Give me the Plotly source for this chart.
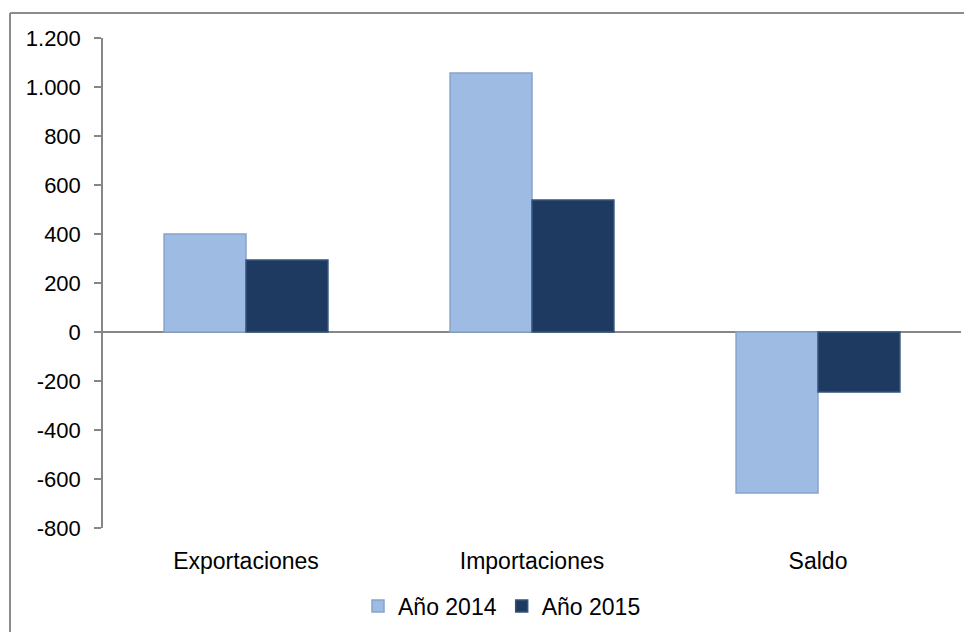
import plotly.graph_objects as go

categories = ["Exportaciones", "Importaciones", "Saldo"]
series_names = ["Año 2014", "Año 2015"]
values_2014 = [400, 1057, -657]
values_2015 = [294, 539, -245]
tick_vals = [-800, -600, -400, -200, 0, 200, 400, 600, 800, 1000, 1200]
tick_text = ["-800", "-600", "-400", "-200", "0", "200", "400", "600", "800", "1.000", "1.200"]

# page body has an 8px margin; compensate so the picture lands on the window
OFF = 8
W, H = 972 - OFF, 632 - OFF
L, R, T, B = 103 - OFF, 11, 38 - OFF, 104
pw, ph = W - L - R, H - T - B

fig = go.Figure()
fig.add_trace(go.Bar(name=series_names[0], x=categories, y=values_2014,
                     marker=dict(color="#9DBBE3", line=dict(color="#86A4CC", width=1.5))))
fig.add_trace(go.Bar(name=series_names[1], x=categories, y=values_2015,
                     marker=dict(color="#1F3A60", line=dict(color="#34547F", width=1.5))))

bx = (10 - OFF - L) / pw
by = 1 + (T - (13 - OFF)) / ph
fig.add_shape(type="line", xref="paper", yref="paper", x0=bx, x1=bx, y0=by, y1=-0.5,
              line=dict(color="#8C8C8C", width=2))
fig.add_shape(type="line", xref="paper", yref="paper", x0=bx, x1=1.2, y0=by, y1=by,
              line=dict(color="#8C8C8C", width=2))

fig.update_layout(
    width=W, height=H,
    margin=dict(l=L, r=R, t=T, b=B, autoexpand=False),
    paper_bgcolor="white", plot_bgcolor="white",
    barmode="group", bargap=0.427, bargroupgap=0,
    font=dict(family="Liberation Sans, Arial, sans-serif", size=22, color="#000000"),
    showlegend=True,
    legend=dict(orientation="h", x=(502 - OFF - L) / pw, xanchor="center",
                y=(H - B - (606 - OFF)) / ph, yanchor="middle",
                font=dict(size=23), itemwidth=30, traceorder="normal"),
    xaxis=dict(showline=False, showgrid=False, ticks="", tickfont=dict(size=23),
               ticklabelstandoff=17),
    yaxis=dict(range=[-800, 1200], tickvals=tick_vals, ticktext=tick_text,
               showgrid=False, showline=True, linecolor="#868686", linewidth=1.5,
               ticks="outside", ticklen=7, tickcolor="#868686", tickwidth=1.5,
               zeroline=True, zerolinecolor="#868686", zerolinewidth=1.5,
               tickfont=dict(size=22), ticklabelstandoff=9),
)

fig.write_html("out.html")
